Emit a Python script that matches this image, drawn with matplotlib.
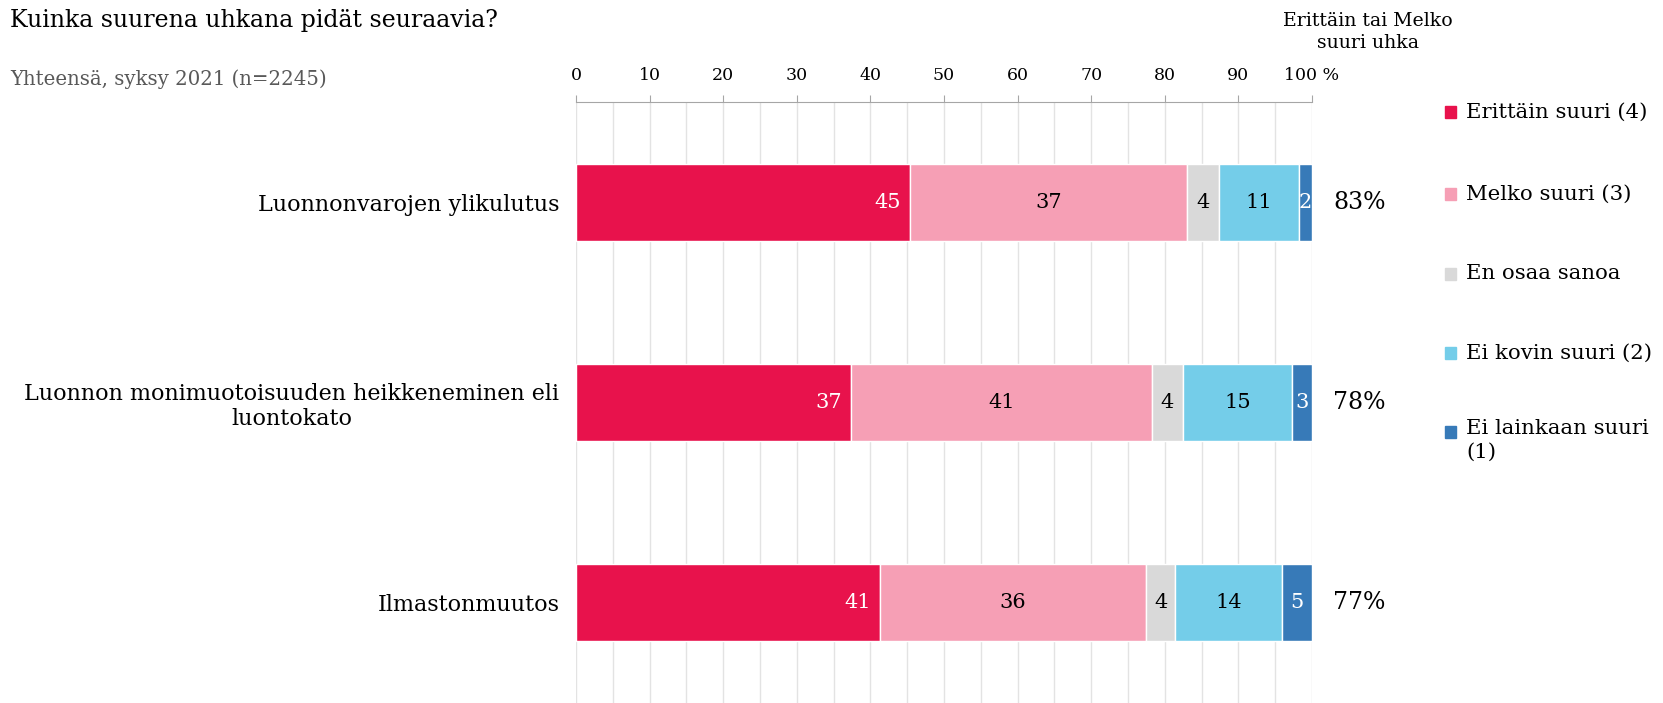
import matplotlib
matplotlib.use("Agg")
import matplotlib.pyplot as plt
from matplotlib.patches import Rectangle
from matplotlib.transforms import blended_transform_factory
import numpy as np

plt.rcParams["font.family"] = ["DejaVu Serif"]

# Data (segment widths in %, labels as printed)
categories = ["Luonnonvarojen ylikulutus",
              "Luonnon monimuotoisuuden heikkeneminen eli\nluontokato",
              "Ilmastonmuutos"]
series = ["Erittäin suuri (4)", "Melko suuri (3)", "En osaa sanoa",
          "Ei kovin suuri (2)", "Ei lainkaan suuri\n(1)"]
erittain = [45.4, 37.4, 41.3]
melko = [37.6, 40.8, 36.2]
eos = [4.3, 4.3, 3.9]
ei_kovin = [10.9, 14.8, 14.5]
ei_lainkaan = [1.8, 2.7, 4.1]
shown = [[45, 37, 4, 11, 2], [37, 41, 4, 15, 3], [41, 36, 4, 14, 5]]
totals = ["83%", "78%", "77%"]
ticks = [0, 10, 20, 30, 40, 50, 60, 70, 80, 90, 100]
tick_labels = ["0", "10", "20", "30", "40", "50", "60", "70", "80", "90", "100 %"]

colors = ["#E8124C", "#F69FB5", "#D9D9D9", "#74CDE9", "#377AB8"]
text_colors = ["white", "black", "black", "black", "white"]

W, H = 1663, 703
fig = plt.figure(figsize=(W / 100, H / 100), dpi=100)
ax = fig.add_axes([576 / W, 0, (1312 - 576) / W, (703 - 102) / H])

vals = np.array([erittain, melko, eos, ei_kovin, ei_lainkaan])
y = np.arange(len(categories))
left = np.zeros(len(categories))
for i in range(len(series)):
    ax.barh(y, vals[i], left=left, height=0.385, color=colors[i],
            edgecolor="white", linewidth=1, zorder=3)
    for j in range(len(categories)):
        if i == 0:
            ax.text(left[j] + vals[i][j] - 1.2, y[j], str(shown[j][i]),
                    ha="right", va="center", color=text_colors[i],
                    fontsize=15, zorder=4)
        else:
            ax.text(left[j] + vals[i][j] / 2, y[j], str(shown[j][i]),
                    ha="center", va="center", color=text_colors[i],
                    fontsize=15, zorder=4)
    left += vals[i]

ax.set_xlim(0, 100)
ax.set_ylim(2.5, -0.5)
ax.set_xticks(ticks)
ax.set_xticklabels(tick_labels)
ax.set_xticks(np.arange(5, 100, 10), minor=True)
ax.xaxis.tick_top()
ax.tick_params(axis="x", which="major", length=5, color="#A6A6A6",
               labelsize=12.5, pad=8)
ax.tick_params(axis="x", which="minor", length=0)
ax.grid(True, axis="x", which="both", color="#E3E3E3", linewidth=1, zorder=0)
ax.set_yticks(y)
ax.set_yticklabels(categories, fontsize=16, ha="right")
ax.tick_params(axis="y", length=0, pad=12)
for lab in ax.get_yticklabels():
    lab.set_multialignment("center")
for s in ["right", "bottom", "left"]:
    ax.spines[s].set_visible(False)
ax.spines["top"].set_color("#A6A6A6")

# totals column
tr = blended_transform_factory(fig.transFigure, ax.transData)
for j in range(len(categories)):
    ax.text(1333 / W, y[j], totals[j], transform=tr, fontsize=17,
            va="center", ha="left")

fig.text(10 / W, 1 - 20 / H, "Kuinka suurena uhkana pidät seuraavia?",
         fontsize=17, va="center", ha="left")
fig.text(10 / W, 1 - 79 / H, "Yhteensä, syksy 2021 (n=2245)",
         fontsize=14.2, va="center", ha="left", color="#595959")
fig.text(1368 / W, 1 - 32 / H, "Erittäin tai Melko\nsuuri uhka",
         fontsize=13.6, va="center", ha="center", linespacing=1.35)

# legend
leg_y = [112, 194, 274, 353, 432]
for i in range(len(series)):
    fig.patches.append(Rectangle((1445 / W, 1 - (leg_y[i] + 6) / H), 11 / W, 12 / H,
                                 transform=fig.transFigure, color=colors[i]))
    if "\n" in series[i]:
        fig.text(1466 / W, 1 - (leg_y[i] - 13) / H, series[i], fontsize=15.3,
                 va="top", ha="left", linespacing=1.3)
    else:
        fig.text(1466 / W, 1 - leg_y[i] / H, series[i], fontsize=15.3,
                 va="center", ha="left")

fig.savefig("out.png", dpi=100)
